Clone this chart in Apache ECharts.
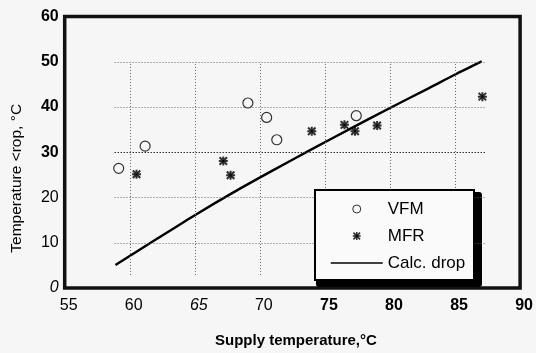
<!DOCTYPE html>
<html>
<head>
<meta charset="utf-8">
<script src="https://cdn.jsdelivr.net/npm/echarts@6/dist/echarts.min.js"></script>
<style>
html,body{margin:0;padding:0;background:#f6f6f6;}
#chart{width:536px;height:353px;}
</style>
</head>
<body>
<div id="chart"></div>
<script>
// ---- data ----
var vfmX = [59.15, 61.18, 69.08, 70.52, 71.30, 77.41];
var vfmY = [26.45, 31.36, 40.9, 37.7, 32.77, 38.09];

var mfrX = [60.52, 67.19, 67.75, 73.99, 76.50, 77.31, 79.01, 87.10];
var mfrY = [25.13, 28.07, 24.92, 34.66, 36.07, 34.66, 35.92, 42.30];

var calcX = [58.90, 62.0, 65.0, 68.0, 71.0, 74.0, 77.0, 80.0, 83.0, 85.0, 87.05];
var calcY = [5.1, 10.7, 16.1, 21.2, 26.0, 30.7, 35.3, 39.8, 44.2, 47.2, 50.1];

var xTickLabels = ['55', '60', '65', '70', '75', '80', '85', '90'];
var yTickLabels = ['0', '10', '20', '30', '40', '50', '60'];

var gridXs = [60, 65, 70, 75, 80, 85];
var gridYs = [10, 20, 30, 40, 50];
var gridXSpan = [58.83, 87.35];
var gridYSpan = [2.88, 50];

// label style keys (per tick, as seen in the scan)
var xLabelStyle = {'55':'n','60':'n','65':'i','70':'n','75':'b','80':'b','85':'b','90':'b'};
var yLabelStyle = {'0':'i','10':'n','20':'n','30':'b','40':'b','50':'b','60':'b'};

var FONT = '"Liberation Sans", Arial, Helvetica, sans-serif';
var BG = '#f6f6f6';

function pairs(xs, ys) { return xs.map(function (x, i) { return [x, ys[i]]; }); }

var richStyles = {
  n: {fontWeight: 'normal', fontStyle: 'normal', fontSize: 16, fontFamily: FONT, color: '#000'},
  b: {fontWeight: 'bold', fontStyle: 'normal', fontSize: 16, fontFamily: FONT, color: '#000'},
  i: {fontWeight: 'normal', fontStyle: 'italic', fontSize: 16, fontFamily: FONT, color: '#000'}
};

var gridLineStyle = {type: [1, 2], color: '#666', width: 1};
var markData = [];
gridXs.forEach(function (x) {
  markData.push([{coord: [x, gridYSpan[0]]}, {coord: [x, gridYSpan[1]]}]);
});
gridYs.forEach(function (y) {
  var item = [{coord: [gridXSpan[0], y]}, {coord: [gridXSpan[1], y]}];
  if (y === 30) item[0].lineStyle = {color: '#333', width: 1.2, type: [1.5, 1.5]};
  markData.push(item);
});

var asterisk = 'path://M0,0L10,10M10,0L0,10M5,-1L5,11M-1,5L11,5M3.5,3.5L6.5,3.5L6.5,6.5L3.5,6.5Z';

var chart = echarts.init(document.getElementById('chart'), null, {renderer: 'canvas'});
chart.setOption({
  backgroundColor: BG,
  animation: false,
  grid: {
    left: 64.7, right: 536 - 524.8, top: 16.6, bottom: 353 - 301.7,
    show: true, borderColor: '#111', borderWidth: 3.5, backgroundColor: 'transparent'
  },
  xAxis: {
    type: 'value', min: 55, max: 90, interval: 5,
    name: 'Supply temperature,°C', nameLocation: 'middle', nameGap: 45,
    nameTextStyle: {fontFamily: FONT, fontSize: 15, fontWeight: 'bold', color: '#000', padding: [0, 0, 0, 7]},
    axisLine: {show: false}, axisTick: {show: false}, splitLine: {show: false},
    axisLabel: {
      margin: 10, padding: [0, 0, 0, 8],
      formatter: function (v) {
        var s = String(v);
        var idx = xTickLabels.indexOf(s);
        if (idx < 0) return '';
        return '{' + xLabelStyle[s] + '|' + xTickLabels[idx] + '}';
      },
      rich: richStyles
    }
  },
  yAxis: {
    type: 'value', min: 0, max: 60, interval: 10,
    name: 'Temperature <rop, °C', nameLocation: 'middle', nameGap: 40,
    nameTextStyle: {fontFamily: FONT, fontSize: 15.5, color: '#000', padding: [0, 52, 0, 0]},
    axisLine: {show: false}, axisTick: {show: false}, splitLine: {show: false},
    axisLabel: {
      margin: 6,
      formatter: function (v) {
        var s = String(v);
        var idx = yTickLabels.indexOf(s);
        if (idx < 0) return '';
        return '{' + yLabelStyle[s] + '|' + yTickLabels[idx] + '}';
      },
      rich: richStyles
    }
  },
  legend: {
    data: [
      {name: 'VFM', itemStyle: {borderWidth: 1}},
      {name: 'MFR', itemStyle: {borderWidth: 1.6}},
      {name: 'Calc. drop', itemStyle: {opacity: 0, color: 'rgba(0,0,0,0)', borderColor: 'rgba(0,0,0,0)', borderWidth: 0}}
    ],
    orient: 'vertical', left: 330, top: 200.5, padding: 0,
    itemWidth: 52, itemHeight: 8, itemGap: 10,
    selectedMode: false, z: 10,
    lineStyle: {width: 1.5},
    textStyle: {fontFamily: FONT, fontSize: 17, color: '#000', lineHeight: 17}
  },
  graphic: [
    {type: 'rect', z: 5, silent: true, shape: {x: 316, y: 192, width: 166, height: 95, r: 3}, style: {fill: '#000'}},
    {type: 'rect', z: 6, silent: true, shape: {x: 315, y: 190, width: 159, height: 90}, style: {fill: '#fafafa', stroke: '#000', lineWidth: 2}}
  ],
  series: [
    {
      name: 'gridlines', type: 'line', data: [], silent: true, z: 1,
      markLine: {silent: true, symbol: ['none', 'none'], label: {show: false}, lineStyle: gridLineStyle, data: markData, animation: false}
    },
    {
      name: 'Calc. drop', type: 'line', data: pairs(calcX, calcY), smooth: 0.25,
      showSymbol: false, symbol: 'none', z: 3,
      lineStyle: {color: '#000', width: 2.4}, itemStyle: {color: '#000'}
    },
    {
      name: 'VFM', type: 'scatter', data: pairs(vfmX, vfmY), symbol: 'circle', symbolSize: 10, z: 4,
      itemStyle: {color: BG, borderColor: '#000', borderWidth: 1.2}
    },
    {
      name: 'MFR', type: 'scatter', data: pairs(mfrX, mfrY), symbol: asterisk, symbolSize: 9, z: 4,
      itemStyle: {color: '#000', borderColor: '#000', borderWidth: 2}
    }
  ]
});
</script>
</body>
</html>
